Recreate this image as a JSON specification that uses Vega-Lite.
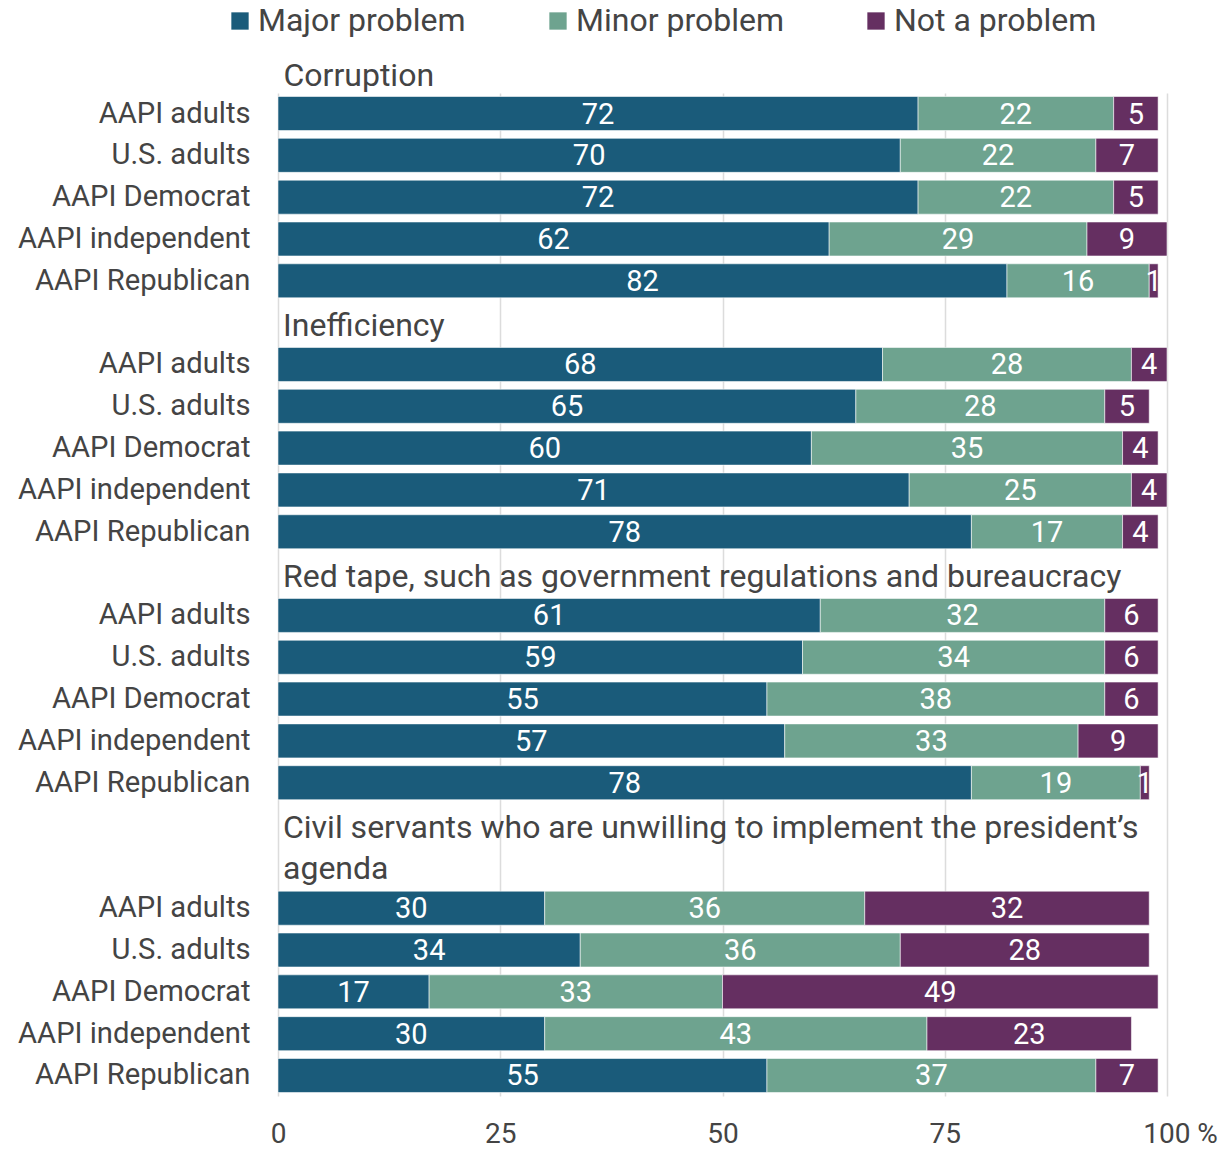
{
  "$schema": "https://vega.github.io/schema/vega-lite/v6.json",
  "autosize": "none",
  "padding": {"left": 278, "top": 93, "right": 60, "bottom": 54},
  "width": 889,
  "height": 1003,
  "background": "white",
  "config": {
    "view": {"stroke": null},
    "font": "Roboto",
    "text": {"font": "Roboto"}
  },
  "datasets": {
    "bars": [
      {"key": "1|AAPI adults", "category": "Major problem", "value": 72},
      {"key": "1|AAPI adults", "category": "Minor problem", "value": 22},
      {"key": "1|AAPI adults", "category": "Not a problem", "value": 5},
      {"key": "1|U.S. adults", "category": "Major problem", "value": 70},
      {"key": "1|U.S. adults", "category": "Minor problem", "value": 22},
      {"key": "1|U.S. adults", "category": "Not a problem", "value": 7},
      {"key": "1|AAPI Democrat", "category": "Major problem", "value": 72},
      {"key": "1|AAPI Democrat", "category": "Minor problem", "value": 22},
      {"key": "1|AAPI Democrat", "category": "Not a problem", "value": 5},
      {"key": "1|AAPI independent", "category": "Major problem", "value": 62},
      {"key": "1|AAPI independent", "category": "Minor problem", "value": 29},
      {"key": "1|AAPI independent", "category": "Not a problem", "value": 9},
      {"key": "1|AAPI Republican", "category": "Major problem", "value": 82},
      {"key": "1|AAPI Republican", "category": "Minor problem", "value": 16},
      {"key": "1|AAPI Republican", "category": "Not a problem", "value": 1},
      {"key": "2|AAPI adults", "category": "Major problem", "value": 68},
      {"key": "2|AAPI adults", "category": "Minor problem", "value": 28},
      {"key": "2|AAPI adults", "category": "Not a problem", "value": 4},
      {"key": "2|U.S. adults", "category": "Major problem", "value": 65},
      {"key": "2|U.S. adults", "category": "Minor problem", "value": 28},
      {"key": "2|U.S. adults", "category": "Not a problem", "value": 5},
      {"key": "2|AAPI Democrat", "category": "Major problem", "value": 60},
      {"key": "2|AAPI Democrat", "category": "Minor problem", "value": 35},
      {"key": "2|AAPI Democrat", "category": "Not a problem", "value": 4},
      {"key": "2|AAPI independent", "category": "Major problem", "value": 71},
      {"key": "2|AAPI independent", "category": "Minor problem", "value": 25},
      {"key": "2|AAPI independent", "category": "Not a problem", "value": 4},
      {"key": "2|AAPI Republican", "category": "Major problem", "value": 78},
      {"key": "2|AAPI Republican", "category": "Minor problem", "value": 17},
      {"key": "2|AAPI Republican", "category": "Not a problem", "value": 4},
      {"key": "3|AAPI adults", "category": "Major problem", "value": 61},
      {"key": "3|AAPI adults", "category": "Minor problem", "value": 32},
      {"key": "3|AAPI adults", "category": "Not a problem", "value": 6},
      {"key": "3|U.S. adults", "category": "Major problem", "value": 59},
      {"key": "3|U.S. adults", "category": "Minor problem", "value": 34},
      {"key": "3|U.S. adults", "category": "Not a problem", "value": 6},
      {"key": "3|AAPI Democrat", "category": "Major problem", "value": 55},
      {"key": "3|AAPI Democrat", "category": "Minor problem", "value": 38},
      {"key": "3|AAPI Democrat", "category": "Not a problem", "value": 6},
      {"key": "3|AAPI independent", "category": "Major problem", "value": 57},
      {"key": "3|AAPI independent", "category": "Minor problem", "value": 33},
      {"key": "3|AAPI independent", "category": "Not a problem", "value": 9},
      {"key": "3|AAPI Republican", "category": "Major problem", "value": 78},
      {"key": "3|AAPI Republican", "category": "Minor problem", "value": 19},
      {"key": "3|AAPI Republican", "category": "Not a problem", "value": 1},
      {"key": "4|AAPI adults", "category": "Major problem", "value": 30},
      {"key": "4|AAPI adults", "category": "Minor problem", "value": 36},
      {"key": "4|AAPI adults", "category": "Not a problem", "value": 32},
      {"key": "4|U.S. adults", "category": "Major problem", "value": 34},
      {"key": "4|U.S. adults", "category": "Minor problem", "value": 36},
      {"key": "4|U.S. adults", "category": "Not a problem", "value": 28},
      {"key": "4|AAPI Democrat", "category": "Major problem", "value": 17},
      {"key": "4|AAPI Democrat", "category": "Minor problem", "value": 33},
      {"key": "4|AAPI Democrat", "category": "Not a problem", "value": 49},
      {"key": "4|AAPI independent", "category": "Major problem", "value": 30},
      {"key": "4|AAPI independent", "category": "Minor problem", "value": 43},
      {"key": "4|AAPI independent", "category": "Not a problem", "value": 23},
      {"key": "4|AAPI Republican", "category": "Major problem", "value": 55},
      {"key": "4|AAPI Republican", "category": "Minor problem", "value": 37},
      {"key": "4|AAPI Republican", "category": "Not a problem", "value": 7}
    ],
    "titles": [
      {"key": "T2", "text": "Inefficiency"},
      {"key": "T3", "text": "Red tape, such as government regulations and bureaucracy"},
      {"key": "T4a", "text": "Civil servants who are unwilling to implement the president’s"},
      {"key": "T4b", "text": "agenda"}
    ]
  },
  "encoding": {
    "y": {
      "field": "key",
      "type": "nominal",
      "scale": {
        "domain": [
          "1|AAPI adults", "1|U.S. adults", "1|AAPI Democrat", "1|AAPI independent", "1|AAPI Republican",
          "T2",
          "2|AAPI adults", "2|U.S. adults", "2|AAPI Democrat", "2|AAPI independent", "2|AAPI Republican",
          "T3",
          "3|AAPI adults", "3|U.S. adults", "3|AAPI Democrat", "3|AAPI independent", "3|AAPI Republican",
          "T4a", "T4b",
          "4|AAPI adults", "4|U.S. adults", "4|AAPI Democrat", "4|AAPI independent", "4|AAPI Republican"
        ],
        "paddingInner": 0.187,
        "paddingOuter": 0.084
      },
      "axis": {
        "title": "Corruption",
        "titleAngle": 0,
        "titleAlign": "left",
        "titleBaseline": "alphabetic",
        "titleX": 5,
        "titleY": -8,
        "titleFont": "Roboto",
        "titleFontSize": 32,
        "titleFontWeight": "normal",
        "titleColor": "#444444",
        "labelExpr": "indexof(datum.value, '|') >= 0 ? split(datum.value, '|')[1] : ''",
        "labelFont": "Roboto",
        "labelFontSize": 29.2,
        "labelColor": "#444444",
        "labelPadding": 28,
        "labelLimit": 400,
        "ticks": false,
        "domain": false,
        "grid": false
      }
    }
  },
  "layer": [
    {
      "data": {"name": "bars"},
      "mark": {"type": "bar", "stroke": "#ffffff", "strokeWidth": 0.8, "strokeOpacity": 0.7},
      "encoding": {
        "x": {
          "field": "value",
          "type": "quantitative",
          "stack": "zero",
          "scale": {"domain": [0, 100], "nice": false},
          "axis": {
            "title": null,
            "values": [0, 25, 50, 75, 100],
            "labelExpr": "datum.value == 100 ? '100 %' : datum.label",
            "labelOffset": {"condition": {"test": "datum.value == 100", "value": 13}, "value": 0},
            "labelFlush": false,
            "labelFont": "Roboto",
            "labelFontSize": 28,
            "labelColor": "#444444",
            "labelPadding": 24,
            "ticks": false,
            "domain": false,
            "grid": true,
            "gridColor": "#dcdcdc",
            "gridWidth": 1.5
          }
        },
        "color": {
          "field": "category",
          "type": "nominal",
          "scale": {
            "domain": ["Major problem", "Minor problem", "Not a problem"],
            "range": ["#1a5b7a", "#6ea38f", "#652f61"]
          },
          "legend": {
            "title": null,
            "orient": "none",
            "direction": "horizontal",
            "legendX": -54,
            "legendY": -88,
            "padding": 0,
            "symbolType": "square",
            "symbolSize": 300,
            "symbolStrokeWidth": 0,
            "symbolOpacity": 1,
            "labelFont": "Roboto",
            "labelFontSize": 32,
            "labelColor": "#444444",
            "labelOffset": 2,
            "labelLimit": 400,
            "columnPadding": 76
          }
        },
        "order": {"field": "category", "sort": "ascending"}
      }
    },
    {
      "data": {"name": "bars"},
      "mark": {"type": "text", "color": "#ffffff", "font": "Roboto", "fontSize": 29, "align": "center", "baseline": "middle", "dy": 1},
      "encoding": {
        "x": {"field": "value", "type": "quantitative", "stack": "zero", "bandPosition": 0.5},
        "detail": {"field": "category", "type": "nominal"},
        "order": {"field": "category", "sort": "ascending"},
        "text": {"field": "value", "type": "quantitative"}
      }
    },
    {
      "data": {"name": "titles"},
      "mark": {"type": "text", "color": "#444444", "font": "Roboto", "fontSize": 32, "align": "left", "baseline": "middle", "dx": 5, "dy": 3},
      "encoding": {
        "x": {"datum": 0, "type": "quantitative"},
        "text": {"field": "text", "type": "nominal"}
      }
    }
  ]
}
